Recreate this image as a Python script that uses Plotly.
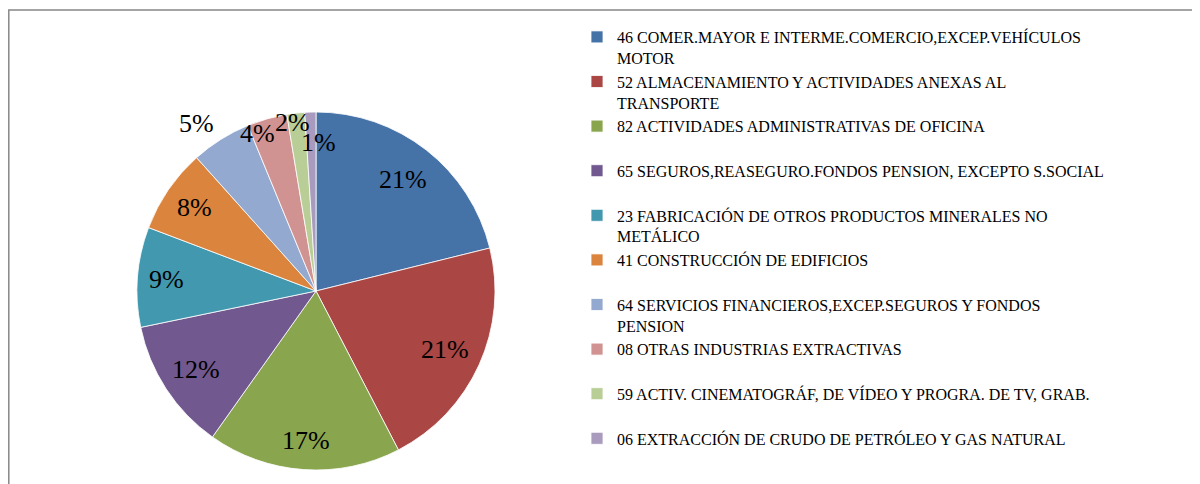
import math
import plotly.graph_objects as go

labels = [
    "46 COMER.MAYOR E INTERME.COMERCIO,EXCEP.VEHÍCULOS<br>MOTOR",
    "52 ALMACENAMIENTO Y ACTIVIDADES ANEXAS AL<br>TRANSPORTE",
    "82 ACTIVIDADES ADMINISTRATIVAS DE OFICINA<br> ",
    "65 SEGUROS,REASEGURO.FONDOS PENSION, EXCEPTO S.SOCIAL<br> ",
    "23 FABRICACIÓN DE OTROS PRODUCTOS MINERALES NO<br>METÁLICO",
    "41 CONSTRUCCIÓN DE EDIFICIOS<br> ",
    "64 SERVICIOS FINANCIEROS,EXCEP.SEGUROS Y FONDOS<br>PENSION",
    "08 OTRAS INDUSTRIAS EXTRACTIVAS<br> ",
    "59 ACTIV. CINEMATOGRÁF, DE VÍDEO Y PROGRA. DE TV, GRAB.<br> ",
    "06 EXTRACCIÓN DE CRUDO DE PETRÓLEO Y GAS NATURAL<br> ",
]
shares = [21.1, 21.2, 17.4, 11.9, 9.0, 7.6, 5.4, 3.6, 1.6, 1.0]
colors = ["#4572A7", "#AA4643", "#89A54E", "#71588F", "#4198AF",
          "#DB843D", "#93A9CF", "#D19392", "#B9CD96", "#A99BBD"]
# label placement: distance from centre (fraction of radius) and angle nudge (deg)
label_r = [0.79, 0.79, 0.84, 0.80, 0.84, 0.82, 1.15, 0.94, 0.95, 0.83]
label_da = [0, 0, 0, 0, 0, 0, -3.5, -4.5, -1.3, 2.6]

off = 8  # page body margin
W, H = 1200 - off, 484 - off
cx, cy, r = 316, 291, 179  # pie centre / radius on screen

fig = go.Figure()
fig.add_trace(go.Pie(
    labels=labels,
    values=shares,
    sort=False,
    direction="clockwise",
    rotation=0,
    marker=dict(colors=colors, line=dict(color="white", width=0.8)),
    textinfo="none",
    hoverinfo="label+percent",
    domain=dict(x=[(cx - r - off) / W, (cx + r - off) / W],
                y=[1 - (cy + r - off) / H, 1 - (cy - r - off) / H]),
    automargin=False,
))

total = sum(shares)
annotations = []
cum = 0
for v, k, da in zip(shares, label_r, label_da):
    a = math.radians(360 * (cum + v / 2) / total + da)
    cum += v
    sx = cx + k * r * math.sin(a)
    sy = cy - k * r * math.cos(a)
    annotations.append(dict(
        x=(sx - off) / W, y=1 - (sy - off) / H, xref="paper", yref="paper",
        text=f"{round(100 * v / total)}%", showarrow=False,
        xanchor="center", yanchor="middle",
        font=dict(family="Liberation Serif", size=26, color="black"),
    ))

fig.update_layout(
    width=W, height=H,
    margin=dict(l=0, r=0, t=0, b=0),
    paper_bgcolor="white",
    font=dict(family="Liberation Serif"),
    showlegend=True,
    legend=dict(
        x=(577 - off) / W, xanchor="left",
        y=1 - (20 - off) / H, yanchor="top",
        font=dict(family="Liberation Serif", size=16, color="black"),
        valign="top",
    ),
    annotations=annotations,
    shapes=[dict(type="rect", xref="paper", yref="paper",
                 x0=0.8 / W, x1=1.02, y0=-0.02, y1=1 - (10 - off) / H,
                 line=dict(color="#878787", width=1.5))],
)

fig.write_html("out.html")
